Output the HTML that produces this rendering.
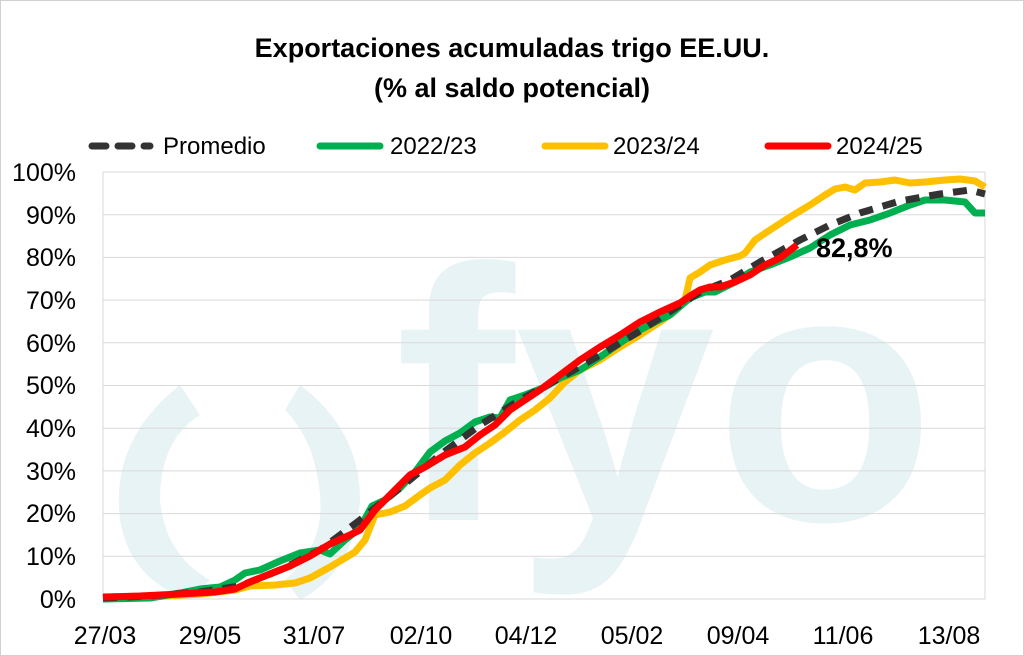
<!DOCTYPE html>
<html><head><meta charset="utf-8"><style>
body{margin:0;background:#fff}
svg{display:block}
text{font-family:"Liberation Sans",sans-serif}
</style></head><body>
<svg width="1024" height="656" viewBox="0 0 1024 656">
<rect x="0.5" y="0.5" width="1023" height="655" fill="#fff" stroke="#d0d0d0"/>
<g fill="#e8f3f6">
<text x="395" y="520" font-size="360" font-weight="bold" font-family="Liberation Sans,sans-serif" fill="#e8f3f6">fyo</text>
<path d="M180 385 Q110 440 120 520 Q130 580 190 600 L210 580 Q165 555 160 500 Q160 440 200 415 Z"/>
<path d="M300 385 Q360 430 360 500 Q355 570 300 600 L285 580 Q325 545 320 495 Q315 440 285 410 Z"/>
</g>
<g stroke="#d9d9d9" stroke-width="1">
<line x1="103" y1="172" x2="985" y2="172"/><line x1="103" y1="214.7" x2="985" y2="214.7"/>
<line x1="103" y1="257.4" x2="985" y2="257.4"/><line x1="103" y1="300.1" x2="985" y2="300.1"/>
<line x1="103" y1="342.8" x2="985" y2="342.8"/><line x1="103" y1="385.5" x2="985" y2="385.5"/>
<line x1="103" y1="428.2" x2="985" y2="428.2"/><line x1="103" y1="470.9" x2="985" y2="470.9"/>
<line x1="103" y1="513.6" x2="985" y2="513.6"/><line x1="103" y1="556.3" x2="985" y2="556.3"/>
<line x1="103" y1="599" x2="985" y2="599"/>
<line x1="103" y1="172" x2="103" y2="599"/><line x1="985" y1="172" x2="985" y2="599"/>
</g>
<g font-size="25" text-anchor="end" fill="#000">
<text x="76" y="181">100%</text><text x="76" y="224">90%</text><text x="76" y="266">80%</text>
<text x="76" y="309">70%</text><text x="76" y="352">60%</text><text x="76" y="394">50%</text>
<text x="76" y="437">40%</text><text x="76" y="480">30%</text><text x="76" y="522">20%</text>
<text x="76" y="565">10%</text><text x="76" y="608">0%</text>
</g>
<g font-size="25" text-anchor="middle" fill="#000">
<text x="105" y="644">27/03</text><text x="210" y="644">29/05</text><text x="314" y="644">31/07</text>
<text x="421" y="644">02/10</text><text x="526" y="644">04/12</text><text x="632" y="644">05/02</text>
<text x="738" y="644">09/04</text><text x="843" y="644">11/06</text><text x="949" y="644">13/08</text>
</g>
<text x="512" y="57" font-size="27" font-weight="bold" text-anchor="middle">Exportaciones acumuladas trigo EE.UU.</text>
<text x="512" y="97" font-size="27" font-weight="bold" text-anchor="middle">(% al saldo potencial)</text>
<g stroke-width="7" fill="none" stroke-linecap="round">
<line x1="92" y1="146" x2="150" y2="146" stroke="#333" stroke-dasharray="14,12"/>
<line x1="320" y1="146" x2="380" y2="146" stroke="#00b050"/>
<line x1="545" y1="146" x2="605" y2="146" stroke="#ffc000"/>
<line x1="768" y1="146" x2="828" y2="146" stroke="#ff0000"/>
</g>
<g font-size="24"><text x="163" y="154">Promedio</text><text x="390" y="154">2022/23</text><text x="613" y="154">2023/24</text><text x="836" y="154">2024/25</text></g>
<g fill="none" stroke-width="7" stroke-linejoin="round">
<polyline stroke="#ffc000" points="103,598 150,597 200,594 235,590 250,586 275,585 295,583 310,578 330,567 345,558 355,552 365,540 375,515 390,512 405,506 420,495 430,488 445,480 460,465 475,453 490,443 505,432 520,420 535,410 550,398 565,382 580,370 600,360 620,347 640,335 660,322 675,311 685,300 690,278 700,272 710,265 725,260 740,256 745,253 755,240 770,230 790,217 810,205 825,195 835,189 845,187 855,190 865,183 880,182 895,180 910,183 925,182 945,180 960,179 975,181 985,187"/>
<polyline stroke="#00b050" points="103,599 150,598 180,593 200,589 220,587 235,580 245,573 260,570 280,561 300,553 320,550 330,554 345,540 360,528 372,506 385,500 400,488 415,472 430,452 445,441 460,433 475,422 490,417 500,418 510,400 525,395 545,387 560,378 580,370 600,357 620,343 640,330 655,322 670,315 690,298 705,292 715,292 725,287 735,282 750,272 770,265 790,257 810,248 830,235 850,225 870,220 890,213 910,205 925,200 945,200 965,202 975,213 985,213"/>
<polyline stroke="#333" stroke-dasharray="14,10" points="103,598 150,596 200,592 240,586 280,570 320,550 360,520 400,488 440,455 480,425 520,400 560,378 600,355 640,331 680,305 700,292 730,280 760,262 800,240 830,225 860,213 900,201 940,194 970,190 985,194"/>
<polyline stroke="#ff0000" points="103,597 140,596 180,594 215,592 235,589 250,582 270,574 290,566 310,556 330,544 350,535 360,530 375,510 390,495 410,475 425,467 445,455 465,447 480,435 495,425 510,410 525,400 540,390 560,375 580,360 600,347 620,335 640,322 660,312 680,303 690,296 700,290 710,287 720,287 735,282 750,275 765,265 780,258 797,245"/>
</g>
<text x="816" y="257" font-size="27" font-weight="bold">82,8%</text>
</svg>
</body></html>
